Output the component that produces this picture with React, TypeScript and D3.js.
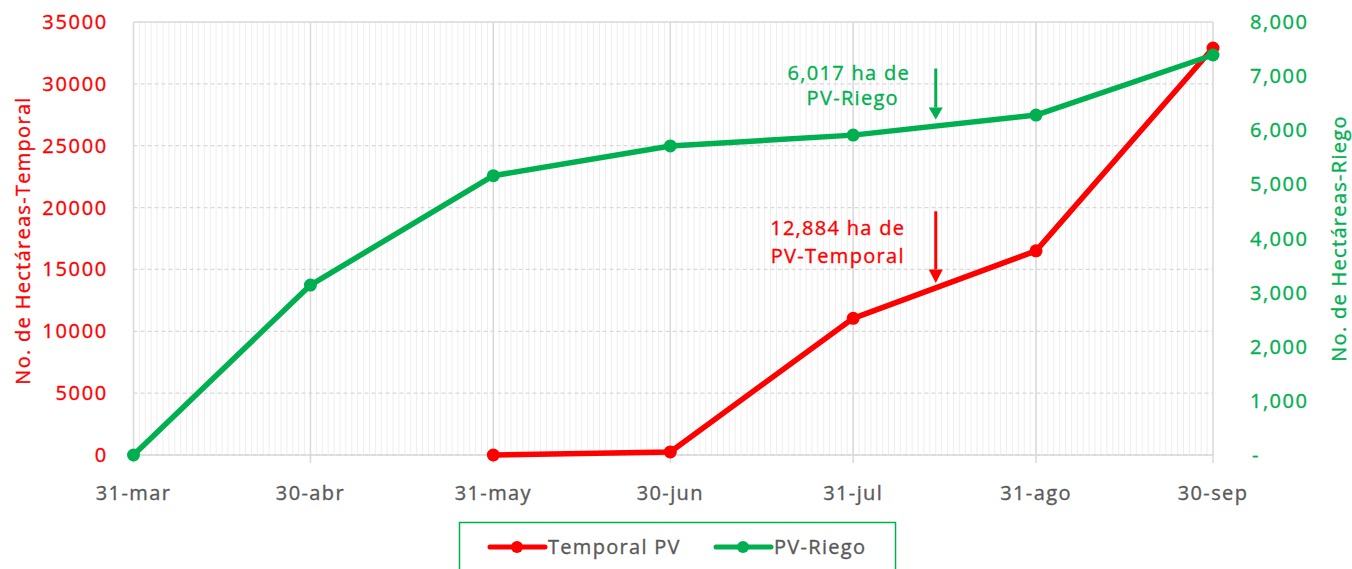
import React from 'react';
import * as d3 from 'd3';

const dates = ['2023-03-31', '2023-04-30', '2023-05-31', '2023-06-30', '2023-07-31', '2023-08-31', '2023-09-30'];
const monthLabels = ['31-mar', '30-abr', '31-may', '30-jun', '31-jul', '31-ago', '30-sep'];
const temporal = [null, null, 0, 250, 11050, 16500, 32900];
const riego = [0, 3140, 5160, 5710, 5910, 6280, 7390];
const leftTicks = [0, 5000, 10000, 15000, 20000, 25000, 30000, 35000];
const rightTicks = [0, 1000, 2000, 3000, 4000, 5000, 6000, 7000, 8000];

const RED = '#ff0000';
const GREEN = '#00b050';
const GRAY = '#595959';
const FONT = "'Open Sans', sans-serif";

const W = 1352, H = 569;
const m = { left: 133.5, right: 1213, top: 22, bottom: 455 };

// slight stroke to get closer to the heavier original face
const txt = (c) => ({ fontFamily: FONT, fontSize: 20, fill: c, stroke: c, strokeWidth: 0.35 });

const App = () => {
    const parse = d3.utcParse('%Y-%m-%d');
    const ds = dates.map(d => parse(d));

    const x = d3.scaleUtc().domain([ds[0], ds[ds.length - 1]]).range([m.left, m.right]);
    const yL = d3.scaleLinear().domain([0, 35000]).range([m.bottom, m.top]);
    const yR = d3.scaleLinear().domain([0, 8000]).range([m.bottom, m.top]);

    const days = d3.utcDay.range(ds[0], ds[ds.length - 1]);

    const tempPts = ds.map((d, i) => ({ d, v: temporal[i] })).filter(p => p.v !== null);
    const riegoPts = ds.map((d, i) => ({ d, v: riego[i] }));

    const lineL = d3.line().x(p => x(p.d)).y(p => yL(p.v));
    const lineR = d3.line().x(p => x(p.d)).y(p => yR(p.v));

    const fmt = d3.format(',');
    const ax = x(parse('2023-08-14'));

    return (
        <svg width={W} height={H} style={{ position: 'absolute', left: 0, top: 0, background: '#fff' }}>
            {/* minor daily grid */}
            {days.map((d, i) => (
                <line key={'d' + i} x1={x(d)} x2={x(d)} y1={m.top} y2={m.bottom} stroke="#eeeeee" strokeWidth={1} />
            ))}
            {/* horizontal dashed grid */}
            {leftTicks.map(t => (
                <line key={'h' + t} x1={m.left} x2={m.right} y1={yL(t)} y2={yL(t)}
                    stroke="#d9d9d9" strokeWidth={1.3} strokeDasharray={t === 35000 ? null : '4,3'} />
            ))}
            {/* month grid */}
            {ds.map((d, i) => (
                <line key={'m' + i} x1={x(d)} x2={x(d)} y1={m.top} y2={m.bottom + 8} stroke="#d9d9d9" strokeWidth={1.5} />
            ))}
            <line x1={m.left} x2={m.right} y1={m.bottom} y2={m.bottom} stroke="#d9d9d9" strokeWidth={1.5} />

            {/* left axis labels */}
            {leftTicks.map(t => (
                <text key={'l' + t} x={108} y={yL(t)} dy="0.35em" textAnchor="end"
                    {...txt(RED)} letterSpacing={1.7}>{t}</text>
            ))}
            {/* right axis labels */}
            {rightTicks.map(t => (
                <text key={'r' + t} x={t === 0 ? 1252 : 1250} y={yR(t)} dy="0.35em" textAnchor="start"
                    {...txt(GREEN)} letterSpacing={1.5}>{t === 0 ? '-' : fmt(t)}</text>
            ))}
            {/* x labels */}
            {ds.map((d, i) => (
                <text key={'x' + i} x={x(d)} y={493} dy="0.35em" textAnchor="middle"
                    {...txt(GRAY)} letterSpacing={1.4}>{monthLabels[i]}</text>
            ))}

            {/* axis titles */}
            <text transform={`translate(23,${(m.top + m.bottom) / 2 + 2}) rotate(-90)`} textAnchor="middle"
                {...txt(RED)} letterSpacing={1.3} dy="0.35em">No. de Hectáreas-Temporal</text>
            <text transform={`translate(1339,${(m.top + m.bottom) / 2}) rotate(-90)`} textAnchor="middle"
                {...txt(GREEN)} letterSpacing={1.3} dy="0.35em">No. de Hectáreas-Riego</text>

            {/* series */}
            <path d={lineL(tempPts)} fill="none" stroke={RED} strokeWidth={5.5} strokeLinejoin="round" />
            {tempPts.map((p, i) => (
                <circle key={'tc' + i} cx={x(p.d)} cy={yL(p.v)} r={6.5} fill={RED} />
            ))}
            <path d={lineR(riegoPts)} fill="none" stroke={GREEN} strokeWidth={5.5} strokeLinejoin="round" />
            {riegoPts.map((p, i) => (
                <circle key={'rc' + i} cx={x(p.d)} cy={yR(p.v)} r={6.5} fill={GREEN} />
            ))}

            {/* annotations */}
            <text x={ax - 87} y={73} dy="0.35em" textAnchor="middle" {...txt(GREEN)} letterSpacing={1.3}>6,017 ha de</text>
            <text x={ax - 83} y={98} dy="0.35em" textAnchor="middle" {...txt(GREEN)} letterSpacing={1.3}>PV-Riego</text>
            <line x1={ax} x2={ax} y1={yR(7140)} y2={yR(6420)} stroke={GREEN} strokeWidth={3} />
            <path d={`M${ax - 7},${yR(6420)} L${ax + 7},${yR(6420)} L${ax},${yR(6200)} Z`} fill={GREEN} />

            <text x={ax - 98} y={228} dy="0.35em" textAnchor="middle" {...txt(RED)} letterSpacing={1.3}>12,884 ha de</text>
            <text x={ax - 98} y={256} dy="0.35em" textAnchor="middle" {...txt(RED)} letterSpacing={1.3}>PV-Temporal</text>
            <line x1={ax} x2={ax} y1={yL(19700)} y2={yL(15000)} stroke={RED} strokeWidth={3} />
            <path d={`M${ax - 7},${yL(15000)} L${ax + 7},${yL(15000)} L${ax},${yL(13900)} Z`} fill={RED} />

            {/* legend */}
            <rect x={459.5} y={522.5} width={436} height={60} fill="#fff" stroke={GREEN} strokeWidth={1.5} />
            <line x1={490} x2={545} y1={547} y2={547} stroke={RED} strokeWidth={5} strokeLinecap="round" />
            <circle cx={517} cy={547} r={6} fill={RED} />
            <text x={548} y={547} dy="0.35em" {...txt(GRAY)} letterSpacing={1.3}>Temporal PV</text>
            <line x1={716} x2={771} y1={547} y2={547} stroke={GREEN} strokeWidth={5} strokeLinecap="round" />
            <circle cx={743} cy={547} r={6} fill={GREEN} />
            <text x={774} y={547} dy="0.35em" {...txt(GRAY)} letterSpacing={1.3}>PV-Riego</text>
        </svg>
    );
};

export default App;
